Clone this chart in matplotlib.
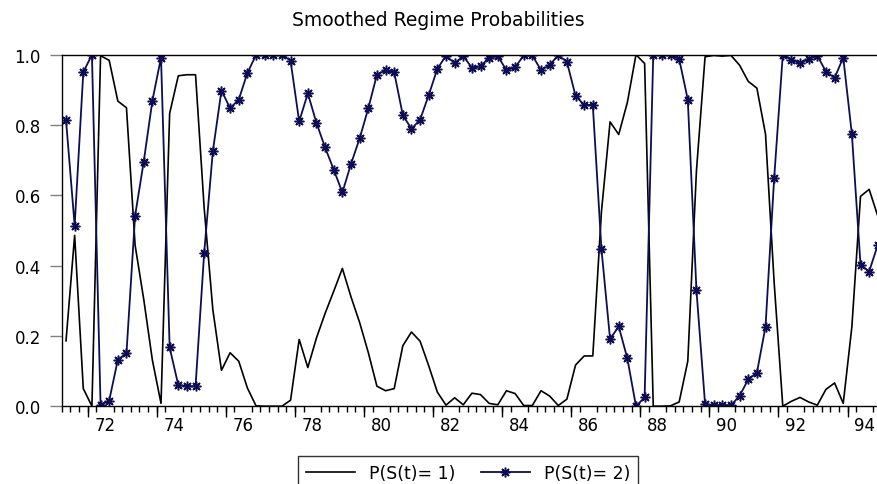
import numpy as np
import matplotlib
matplotlib.use("Agg")
import matplotlib.pyplot as plt

plt.rcParams['font.family'] = ['DejaVu Sans']

# quarterly smoothed probabilities, 1971Q2 .. 1994Q4
p_regime2 = [0.814, 0.514, 0.950, 1.000, 0.003, 0.016, 0.132, 0.151, 0.542, 0.696, 0.869, 0.992,
             0.167, 0.060, 0.057, 0.057, 0.437, 0.725, 0.898, 0.848, 0.872, 0.948, 0.999, 1.000,
             1.000, 1.000, 0.983, 0.810, 0.890, 0.806, 0.736, 0.673, 0.608, 0.689, 0.762, 0.847,
             0.943, 0.956, 0.950, 0.828, 0.789, 0.815, 0.885, 0.960, 0.997, 0.976,
             0.996, 0.963, 0.967, 0.992, 0.996, 0.956, 0.964, 0.998, 0.998, 0.956, 0.971, 0.998,
             0.980, 0.883, 0.857, 0.857, 0.447, 0.191, 0.227, 0.136, 0.000, 0.025, 1.000,
             1.000, 0.999, 0.988, 0.872, 0.331, 0.006, 0.002, 0.004, 0.002, 0.030, 0.076, 0.095,
             0.226, 0.648, 1.000, 0.986, 0.975, 0.988, 0.997, 0.952, 0.934, 0.992, 0.774, 0.403,
             0.383, 0.459]
p_regime1 = [0.186, 0.486, 0.050, 0.000, 0.997, 0.984, 0.868, 0.849, 0.458, 0.304, 0.131, 0.008,
             0.833, 0.940, 0.943, 0.943, 0.563, 0.275, 0.102, 0.152, 0.128, 0.052, 0.001, 0.000,
             0.000, 0.000, 0.017, 0.190, 0.110, 0.194, 0.264, 0.327, 0.392, 0.311, 0.238, 0.153,
             0.057, 0.044, 0.050, 0.172, 0.211, 0.185, 0.115, 0.040, 0.003, 0.024,
             0.004, 0.037, 0.033, 0.008, 0.004, 0.044, 0.036, 0.002, 0.002, 0.044, 0.029, 0.002,
             0.020, 0.117, 0.143, 0.143, 0.553, 0.809, 0.773, 0.864, 1.000, 0.975, 0.000,
             0.000, 0.001, 0.012, 0.128, 0.669, 0.994, 0.998, 0.996, 0.998, 0.970, 0.924, 0.905,
             0.774, 0.352, 0.000, 0.014, 0.025, 0.012, 0.003, 0.048, 0.066, 0.008, 0.226, 0.597,
             0.617, 0.541]
year_labels = ['72', '74', '76', '78', '80', '82', '84', '86', '88', '90', '92', '94']
first_q = 1  # series starts in the 2nd quarter of 1971

n = len(p_regime1)
qidx = np.arange(n)

fig = plt.figure(figsize=(8.77, 4.85), dpi=100)
ax = fig.add_axes([61.7 / 877, 77.8 / 485, 820.4 / 877, 351.5 / 485])

ax.plot(qidx, p_regime1, color='black', lw=1.2, label='P(S(t)= 1)')
ax.plot(qidx, p_regime2, color='#0d0d55', lw=1.3, marker=(8, 2, 0), ms=7, mew=1.1,
        label='P(S(t)= 2)')

ax.set_xlim(-0.5, n - 0.5)
ax.set_ylim(0, 1)

# quarter boundary ticks, year-pair ticks longer, labels centred on the year
year_start = 4 - first_q - 0.5
ax.set_xticks(year_start + 2 + 8 * np.arange(len(year_labels)), year_labels)
ax.set_xticks(np.arange(-0.5, n, 1.0), minor=True)
ax.tick_params(axis='x', which='major', length=0, pad=7, labelsize=12)
ax.tick_params(axis='x', which='minor', length=4, width=1, direction='out')
sec = ax.secondary_xaxis('bottom')
sec.set_xticks(year_start + 8 * np.arange(len(year_labels)), [''] * len(year_labels))
sec.tick_params(length=8, width=1, direction='out')
sec.spines['bottom'].set_visible(False)

ax.set_yticks(np.arange(0, 1.01, 0.2), ['0.0', '0.2', '0.4', '0.6', '0.8', '1.0'])
ax.tick_params(axis='y', length=9, width=1, color='#808080', pad=6, labelsize=12)

for s in ax.spines.values():
    s.set_linewidth(1.0)

fig.text(0.5, 1 - 20 / 485, 'Smoothed Regime Probabilities', ha='center', va='center',
         fontsize=13.5)

leg = fig.legend(loc='upper center', bbox_to_anchor=(468 / 877, 1 - 457 / 485), ncol=2,
                 fontsize=12.5, frameon=True, fancybox=False, edgecolor='black',
                 handlelength=2.8, columnspacing=1.5, handletextpad=0.8,
                 borderpad=0.45, borderaxespad=0)
leg.get_frame().set_linewidth(1.0)

fig.savefig('out.png', dpi=100)
